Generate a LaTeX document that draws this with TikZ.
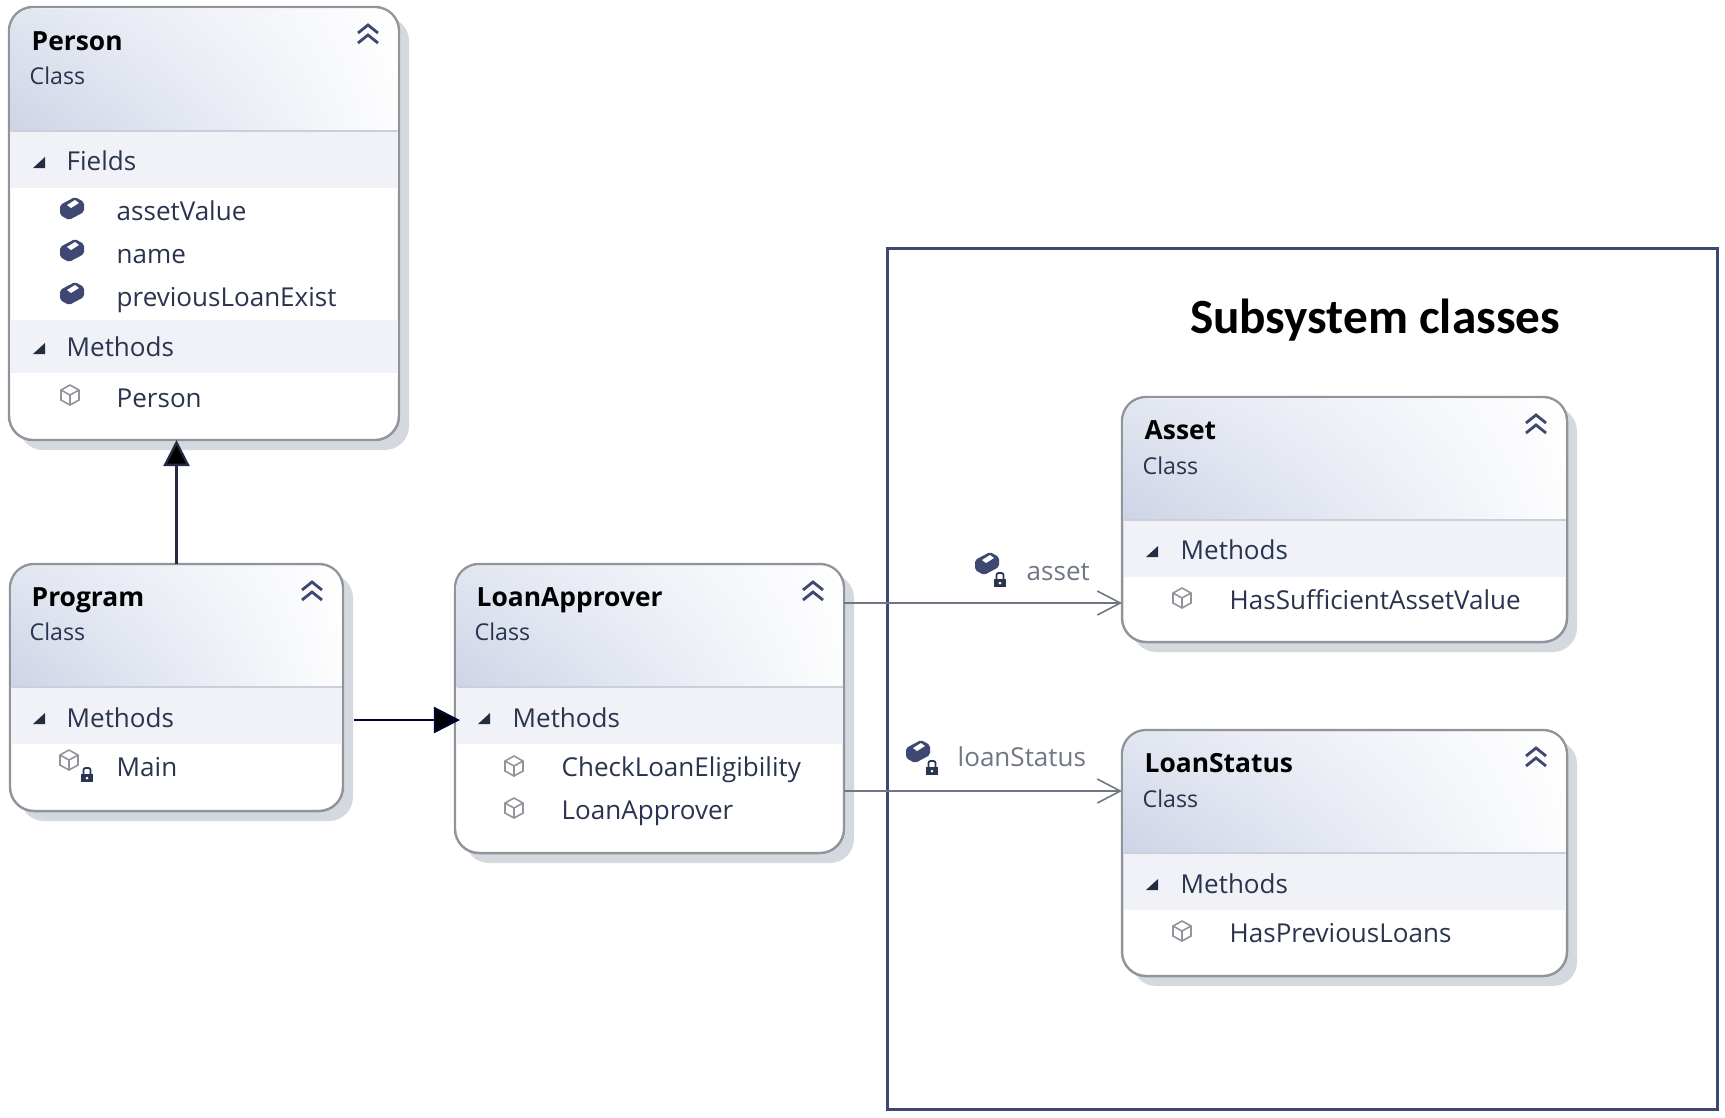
\documentclass[tikz,border=0pt]{standalone}
\usepackage{fontspec}
\setmainfont{Open Sans}
\newfontfamily\headfont{Carlito}
\usetikzlibrary{arrows.meta,shadings}
\definecolor{boxline}{RGB}{146, 148, 156}
\definecolor{boxshadow}{RGB}{212, 216, 223}
\definecolor{hdrdark}{RGB}{205, 212, 230}
\definecolor{hdrmid}{RGB}{226, 230, 241}
\definecolor{bandcol}{RGB}{240, 242, 248}
\definecolor{sepcol}{RGB}{203, 207, 219}
\definecolor{navy}{RGB}{62, 72, 115}
\definecolor{itemcol}{RGB}{42, 52, 78}
\definecolor{assoccol}{RGB}{112, 118, 132}
\tikzset{
  classnode/.style={draw=boxline, line width=0.7pt, rounded corners=0.24cm, inner sep=0pt, outer sep=0pt},
  titletext/.style={anchor=base west, inner sep=0pt, font=\fontsize{7.5}{10}\selectfont\bfseries, text=black},
  kindtext/.style={anchor=base west, inner sep=0pt, font=\fontsize{6.6}{8}\selectfont, text=itemcol},
  itemtext/.style={anchor=base west, inner sep=0pt, font=\fontsize{7.4}{9}\selectfont, text=itemcol},
  assoctext/.style={anchor=base west, inner sep=0pt, font=\fontsize{7.4}{9}\selectfont, text=assoccol},
  dep/.style={-{Triangle[length=0.26cm, width=0.26cm, fill=black]}, line width=0.65pt, draw=black!80!blue},
  assoc/.style={-{Straight Barb[length=0.23cm, width=0.24cm]}, line width=0.45pt, draw=assoccol},
  fieldicon/.pic={
    \fill[navy, rounded corners=0.02cm] (-12,-3) -- (3,-11) -- (12,-6) -- (12,4) -- (-3,12) -- (-12,7) -- cycle;
    \fill[white] (-5,-3) -- (3,-8) -- (7,-5) -- (-1,0) -- cycle;
  },
  methodicon/.pic={
    \draw[boxline, line width=0.45pt] (0,-10) -- (9,-5) -- (9,5) -- (0,10) -- (-9,5) -- (-9,-5) -- cycle;
    \draw[boxline, line width=0.45pt] (-9,-5) -- (0,0) -- (9,-5) (0,0) -- (0,10);
  },
  lockicon/.pic={
    \fill[itemcol] (-6,-1) rectangle (6,7);
    \draw[itemcol, line width=0.5pt, rounded corners=0.02cm] (-3.5,-1) -- (-3.5,-7) -- (3.5,-7) -- (3.5,-1);
    \fill[white] (0,3) circle (1.5);
  },
  chevron/.pic={
    \draw[navy, line width=0.8pt] (-10,-2) -- (0,-10) -- (10,-2);
    \draw[navy, line width=0.8pt] (-10,8) -- (0,0) -- (10,8);
  },
  expander/.pic={
    \fill[itemcol!85!black] (6,-6) -- (6,5) -- (-6,5) -- cycle;
  },
}
% name, left, top, right, bottom, header bottom
\newcommand{\classbox}[6]{
  \fill[boxshadow, rounded corners=0.24cm] (#2+10,#3+10) rectangle (#4+10,#5+10);
  \node[classnode, fill=white, minimum width={(#4-#2)*0.01cm}, minimum height={(#5-#3)*0.01cm}] (#1) at ({(#2+#4)/2},{(#3+#5)/2}) {};
  \shade[upper left=hdrmid, upper right=white, lower left=hdrdark, lower right=white!95!hdrdark]
    (#2+1.5,#6) [rounded corners=0.22cm] -- (#2+1.5,#3+1.5) -- (#4-1.5,#3+1.5) [sharp corners] -- (#4-1.5,#6) -- cycle;
  \draw[sepcol, line width=0.6pt] (#2+1.5,#6) -- (#4-1.5,#6);
  \pic at (#4-31,#3+28) {chevron};
}

\begin{document}
\begin{tikzpicture}[x=0.01cm, y=-0.01cm]
    \useasboundingbox (0,0) rectangle (1725,1117);

    % subsystem frame
    \node[draw=navy, line width=0.9pt, inner sep=0pt, outer sep=0pt, minimum width=8.29cm, minimum height=8.6cm] (subsystem) at (1302.5,679) {};
    \node[font=\fontsize{14}{16}\selectfont\headfont\bfseries, text=black, inner sep=0pt] (subsystem-title) at (1375,320) {Subsystem classes};

    % Person
    \classbox{person}{9}{7}{399}{440}{131}
    \fill[bandcol] (10.5,132) rectangle (397.5,188);
    \fill[bandcol] (10.5,320) rectangle (397.5,373);
    \node[titletext] (person-name) at (31,50) {Person};
    \node[kindtext] (person-kind) at (29,84) {Class};
    \pic at (39,163) {expander};
    \node[itemtext] (person-fields) at (66,170) {Fields};
    \pic at (72,208) {fieldicon};
    \node[itemtext] (person-asset) at (116,220) {assetValue};
    \pic at (72,250) {fieldicon};
    \node[itemtext] (person-fname) at (116,263) {name};
    \pic at (72,293) {fieldicon};
    \node[itemtext] (person-prev) at (116,306) {previousLoanExist};
    \pic at (39,349) {expander};
    \node[itemtext] (person-methods) at (66,356) {Methods};
    \pic at (70,395) {methodicon};
    \node[itemtext] (person-ctor) at (116,407) {Person};

    % Program
    \classbox{program}{10}{564}{343}{811}{687}
    \fill[bandcol] (11.5,688) rectangle (341.5,744);
    \node[titletext] (program-name) at (31,606) {Program};
    \node[kindtext] (program-kind) at (29,640) {Class};
    \pic at (39,719) {expander};
    \node[itemtext] (program-methods) at (66,727) {Methods};
    \pic at (69,760) {methodicon};
    \pic at (87,775) {lockicon};
    \node[itemtext] (program-main) at (116,776) {Main};

    % LoanApprover
    \classbox{loan}{455}{564}{844}{853}{687}
    \fill[bandcol] (456.5,688) rectangle (842.5,744);
    \node[titletext] (loan-name) at (476,606) {LoanApprover};
    \node[kindtext] (loan-kind) at (474,640) {Class};
    \pic at (484,719) {expander};
    \node[itemtext] (loan-methods) at (512,727) {Methods};
    \pic at (514,766) {methodicon};
    \node[itemtext] (loan-check) at (561,776) {CheckLoanEligibility};
    \pic at (514,808) {methodicon};
    \node[itemtext] (loan-ctor) at (561,819) {LoanApprover};

    % Asset
    \classbox{asset}{1122}{397}{1567}{642}{520}
    \fill[bandcol] (1123.5,521) rectangle (1565.5,577);
    \node[titletext] (asset-name) at (1144,439) {Asset};
    \node[kindtext] (asset-kind) at (1142,474) {Class};
    \pic at (1152,552) {expander};
    \node[itemtext] (asset-methods) at (1180,559) {Methods};
    \pic at (1182,598) {methodicon};
    \node[itemtext] (asset-has) at (1229,609) {HasSufficientAssetValue};

    % LoanStatus
    \classbox{status}{1122}{730}{1567}{976}{853}
    \fill[bandcol] (1123.5,854) rectangle (1565.5,910);
    \node[titletext] (status-name) at (1144,772) {LoanStatus};
    \node[kindtext] (status-kind) at (1142,807) {Class};
    \pic at (1152,885) {expander};
    \node[itemtext] (status-methods) at (1180,893) {Methods};
    \pic at (1182,931) {methodicon};
    \node[itemtext] (status-has) at (1229,942) {HasPreviousLoans};

    % connectors
    \coordinate (dep-in) at (460,720);
    \coordinate (dep-out) at (354,720);
    \coordinate (asset-in) at (asset.west |- 0,603);
    \coordinate (status-in) at (status.west |- 0,791);
    \draw[dep, draw=navy!60!black] (program.north) -- (program.north |- person.south);
    \draw[dep] (dep-out) -- (dep-in);
    \draw[assoc] (loan.east |- asset-in) -- (asset-in);
    \draw[assoc] (loan.east |- status-in) -- (status-in);

    \pic at (987,563) {fieldicon};
    \pic at (1000,580) {lockicon};
    \node[assoctext] (asset-label) at (1026,580) {asset};
    \pic at (918,751) {fieldicon};
    \pic at (932,768) {lockicon};
    \node[assoctext] (status-label) at (957,766) {loanStatus};
\end{tikzpicture}
\end{document}
